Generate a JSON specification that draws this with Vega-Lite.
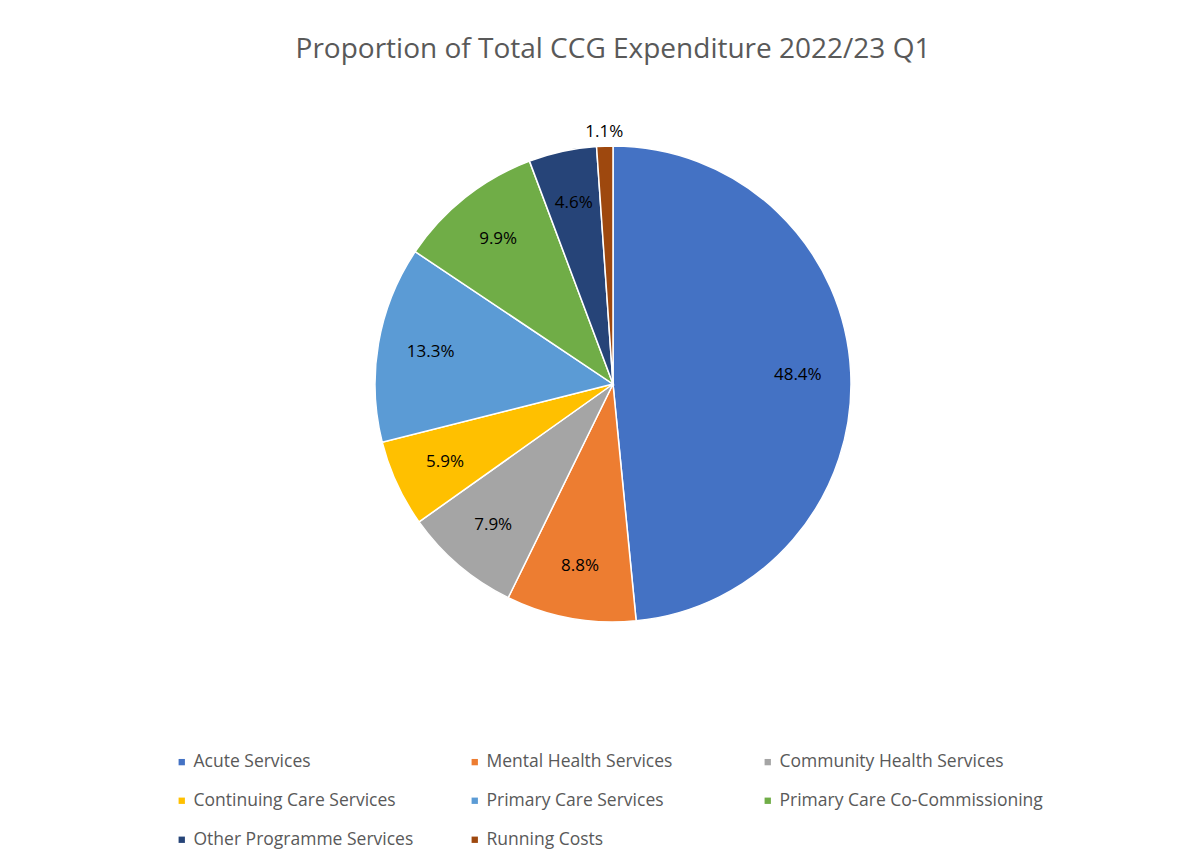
{
  "$schema": "https://vega.github.io/schema/vega-lite/v6.json",
  "autosize": {"type": "fit", "contains": "padding"},
  "width": 1200,
  "height": 862,
  "padding": {"top": 36, "left": 30, "right": 4, "bottom": 167},
  "background": "white",
  "title": {
    "text": "Proportion of Total CCG Expenditure 2022/23 Q1",
    "font": "Open Sans",
    "fontSize": 28,
    "fontWeight": "normal",
    "color": "#595959",
    "anchor": "middle",
    "offset": 9
  },
  "data": {
    "values": [
      {"idx": 1, "category": "Acute Services", "pct": 48.4, "label": "48.4%"},
      {"idx": 2, "category": "Mental Health Services", "pct": 8.8, "label": "8.8%"},
      {"idx": 3, "category": "Community Health Services", "pct": 7.9, "label": "7.9%"},
      {"idx": 4, "category": "Continuing Care Services", "pct": 5.9, "label": "5.9%"},
      {"idx": 5, "category": "Primary Care Services", "pct": 13.3, "label": "13.3%"},
      {"idx": 6, "category": "Primary Care Co-Commissioning", "pct": 9.9, "label": "9.9%"},
      {"idx": 7, "category": "Other Programme Services", "pct": 4.6, "label": "4.6%"},
      {"idx": 8, "category": "Running Costs", "pct": 1.1, "label": "1.1%"}
    ]
  },
  "encoding": {
    "theta": {"field": "pct", "type": "quantitative", "stack": true, "scale": {"domain": [0, 99.9]}},
    "order": {"field": "idx", "type": "quantitative"},
    "color": {
      "field": "category",
      "type": "nominal",
      "scale": {
        "domain": ["Acute Services", "Mental Health Services", "Community Health Services", "Continuing Care Services", "Primary Care Services", "Primary Care Co-Commissioning", "Other Programme Services", "Running Costs"],
        "range": ["#4472C4", "#ED7D31", "#A5A5A5", "#FFC000", "#5B9BD5", "#70AD47", "#264478", "#9E480E"]
      },
      "legend": {
        "title": null,
        "orient": "none",
        "legendX": 143,
        "legendY": 680,
        "direction": "horizontal",
        "columns": 3,
        "gridAlign": "all",
        "columnPadding": 9,
        "rowPadding": 20,
        "symbolType": "square",
        "symbolSize": 40,
        "symbolStrokeWidth": 0,
        "labelOffset": 3,
        "labelFont": "Open Sans",
        "labelFontSize": 17.5,
        "labelColor": "#595959",
        "labelLimit": 400
      }
    }
  },
  "layer": [
    {
      "mark": {"type": "arc", "outerRadius": 238, "stroke": "white", "strokeWidth": 1.5}
    },
    {
      "mark": {"type": "text", "radius": 185, "font": "Open Sans", "fontSize": 17, "color": "#000000"},
      "encoding": {
        "text": {"condition": {"test": "datum.idx == 8", "value": ""}, "field": "label", "type": "nominal"},
        "color": {"value": "#000000"}
      }
    },
    {
      "mark": {"type": "text", "radius": 252, "font": "Open Sans", "fontSize": 17, "color": "#000000"},
      "encoding": {
        "text": {"condition": {"test": "datum.idx != 8", "value": ""}, "field": "label", "type": "nominal"},
        "color": {"value": "#000000"}
      }
    }
  ],
  "view": {"stroke": null}
}
